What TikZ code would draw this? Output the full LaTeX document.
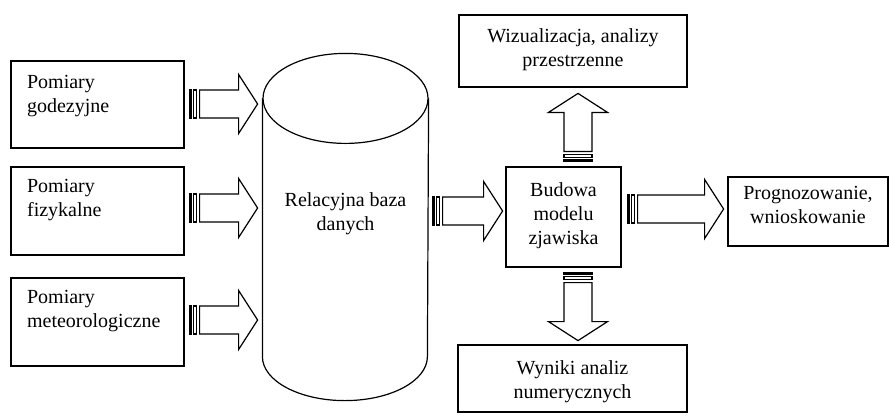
\documentclass[tikz,border=0pt]{standalone}
\usepackage{fontspec}
\setmainfont{Liberation Serif}
\usetikzlibrary{calc}
\begin{document}
\begin{tikzpicture}[x=1pt,y=-1pt, line width=1.2pt,
  box/.style={draw, rectangle, inner sep=0pt},
  txt/.style={inner sep=0pt, font=\fontsize{20}{24}\selectfont},
  pics/sarrow/.style={code={
    \draw[fill=black] (0,-14) rectangle (2,14);
    \draw (4,-14) rectangle (7,14);
    \draw[line join=miter] (10,-14) -- (#1-19,-14) -- (#1-19,-29.5) -- (#1,0) -- (#1-19,29.5) -- (#1-19,14) -- (10,14) -- cycle;
  }}]
\useasboundingbox (0,0) rectangle (890,416);

% left boxes
\node[box, minimum width=173pt, minimum height=87pt] (b1) at (97.5,104.5) {};
\node[box, minimum width=173pt, minimum height=88pt] (b2) at (97.5,211) {};
\node[box, minimum width=173pt, minimum height=88pt] (b3) at (97.5,322) {};
\node[txt, anchor=north west, align=left] (t1) at (26.5,74.3) {Pomiary\\godezyjne};
\node[txt, anchor=north west, align=left] (t2) at (26.5,178.3) {Pomiary\\fizykalne};
\node[txt, anchor=north west, align=left] (t3) at (26.5,289.3) {Pomiary\\meteorologiczne};

% database cylinder
\node[inner sep=0pt, minimum width=165pt, minimum height=257pt] (db) at (345.5,227.5) {};
\draw (db.north west) -- (db.south west) arc[start angle=180, end angle=360, x radius=82.5pt, y radius=44pt] -- (db.north east);
\draw (db.north) ellipse [x radius=82.5pt, y radius=45pt];
\node[txt, anchor=north, align=center] (tdb) at (345.5,192.3) {Relacyjna baza\\danych};

% model box
\node[box, minimum width=115pt, minimum height=100pt] (model) at (563.5,217) {};
\node[txt, anchor=north, align=center] (tm) at (563.5,182.3) {Budowa\\modelu\\zjawiska};

% visualisation box
\node[box, minimum width=228pt, minimum height=72pt] (viz) at (573,51) {};
\node[txt, anchor=north, align=center] (tv) at (573,28.3) {Wizualizacja, analizy\\przestrzenne};

% forecast box
\node[box, minimum width=160pt, minimum height=69pt] (prog) at (808,211.5) {};
\node[txt, anchor=north, align=center] (tp) at (808,186) {Prognozowanie,\\wnioskowanie};

% results box
\node[box, minimum width=229pt, minimum height=67pt] (wyn) at (572.5,378.5) {};
\node[txt, anchor=north, align=center] (tw) at (572.5,360.3) {Wyniki analiz\\numerycznych};

% striped block arrows
\pic at ($(b1.east)+(5,-0.5)$) {sarrow=68};
\pic at ($(b2.east)+(5,-3)$) {sarrow=68};
\pic at ($(b3.east)+(5,-2)$) {sarrow=68};
\pic at ($(db.east)+(4,-16.5)$) {sarrow=70};
\pic[rotate=90] at ($(model.north)+(14.5,-5)$) {sarrow=68};
\pic[rotate=-90] at ($(model.south)+(14.5,5)$) {sarrow=68};
\pic at ($(model.east)+(6,-8)$) {sarrow=96};
\end{tikzpicture}
\end{document}
